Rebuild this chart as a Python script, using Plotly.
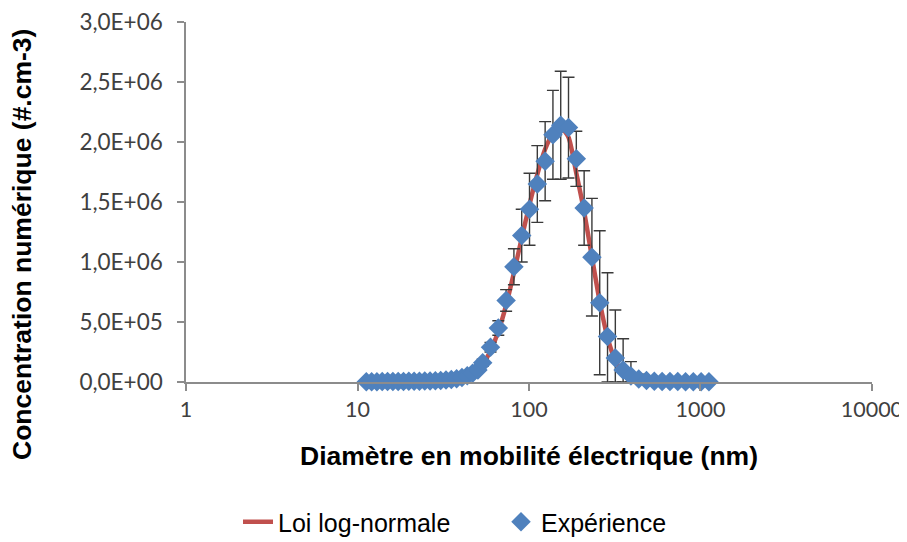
import plotly.graph_objects as go

# Diameters (nm)
diametre = [11.25, 12.08, 12.97, 13.93, 14.96, 16.07, 17.26, 18.54, 19.91, 21.38,
            22.96, 24.66, 26.49, 28.44, 30.55, 32.81, 35.24, 37.84, 40.64, 43.65,
            46.88, 50.35, 53.70, 59.64, 66.22, 73.55, 81.66, 90.69, 100.7, 111.8,
            124.2, 137.9, 153.1, 170.0, 188.8, 209.7, 232.8, 258.5, 287.1, 318.8,
            354.0, 393.1, 436.5, 484.7, 538.3, 597.7, 663.7, 737.1, 818.5, 908.9,
            1009, 1121]

# Experimental concentration (#/cm3)
experience = [3e3, 3e3, 3e3, 4e3, 4e3, 4e3, 5e3, 5e3, 6e3, 6e3,
              7e3, 8e3, 9e3, 11e3, 13e3, 16e3, 21e3, 28e3, 38e3, 52e3,
              72e3, 1.0e5, 1.6e5, 2.9e5, 4.5e5, 6.8e5, 9.6e5, 1.22e6, 1.44e6, 1.65e6,
              1.84e6, 2.06e6, 2.14e6, 2.12e6, 1.86e6, 1.45e6, 1.04e6, 6.6e5, 3.8e5, 2.0e5,
              1.0e5, 5.0e4, 2.5e4, 1.2e4, 7e3, 5e3, 4e3, 4e3, 3e3, 3e3,
              3e3, 3e3]

# Error bars (#/cm3)
erreur = [0, 0, 0, 0, 0, 0, 0, 0, 0, 0,
          0, 0, 0, 0, 0, 0, 0, 0, 0, 0,
          0, 0, 3e4, 4e4, 6e4, 9e4, 1.5e5, 2.2e5, 3.0e5, 3.2e5,
          3.3e5, 3.7e5, 4.5e5, 4.2e5, 2.3e5, 3.1e5, 4.9e5, 6.0e5, 5.3e5, 4.0e5,
          2.6e5, 1.2e5, 4e4, 0, 0, 0, 0, 0, 0, 0,
          0, 0]

# Log-normal fit (#/cm3)
loi_lognormale = [0, 0, 0, 0, 1e3, 1e3, 1e3, 1e3, 2e3, 2e3,
                  2e3, 2e3, 3e3, 5e3, 8e3, 12e3, 18e3, 26e3, 37e3, 52e3,
                  72e3, 1.0e5, 1.45e5, 2.6e5, 4.2e5, 6.4e5, 9.1e5, 1.20e6, 1.48e6, 1.73e6,
                  1.94e6, 2.07e6, 2.12e6, 2.04e6, 1.74e6, 1.42e6, 1.04e6, 6.7e5, 3.7e5, 1.8e5,
                  8e4, 3e4, 12e3, 5e3, 2e3, 1e3, 0, 0, 0, 0,
                  0, 0]

x_ticks = [1, 10, 100, 1000, 10000]
x_ticktext = ["1", "10", "100", "1000", "10000"]
y_ticks = [0, 5e5, 1e6, 1.5e6, 2e6, 2.5e6, 3e6]
y_ticktext = ["0,0E+00", "5,0E+05", "1,0E+06", "1,5E+06", "2,0E+06", "2,5E+06", "3,0E+06"]

err_minus = [min(e, v) for e, v in zip(erreur, experience)]

fig = go.Figure()
fig.add_trace(go.Scatter(
    x=diametre, y=loi_lognormale, mode="lines", name="Loi log-normale",
    line=dict(color="#C0504D", width=4.5, shape="spline", smoothing=0.6),
))
fig.add_trace(go.Scatter(
    x=diametre, y=experience, mode="markers", name="Expérience",
    marker=dict(symbol="diamond", size=15, color="#4F81BD"),
    error_y=dict(type="data", array=erreur, arrayminus=err_minus, symmetric=False,
                 color="#3a3a3a", thickness=1.4, width=6),
    cliponaxis=False,
))

# figure size = window minus the page's 8 px body margin
W, H = 899, 534
L, R, T, B = 178, 864, 14, 374

fig.update_layout(
    width=W, height=H,
    margin=dict(l=L, r=W - R, t=T, b=H - B, autoexpand=False),
    paper_bgcolor="white", plot_bgcolor="white",
    showlegend=True,
    legend=dict(orientation="h", x=(230 - L) / (R - L), xanchor="left",
                y=(B - 514) / (B - T), yanchor="middle",
                font=dict(family="Liberation Sans, Arial", size=25, color="#000000"),
                entrywidth=218, entrywidthmode="pixels"),
    xaxis=dict(
        type="log", range=[-0.0005, 4.0005],
        tickvals=x_ticks, ticktext=x_ticktext,
        showgrid=False, zeroline=False,
        showline=True, linecolor="#8c8c8c", linewidth=1.5,
        ticks="outside", ticklen=7, tickcolor="#8c8c8c", tickwidth=1.5,
        tickfont=dict(family="Lato", size=21.5, color="#404040"),
        ticklabeloverflow="allow",
        title=dict(text="<b>Diamètre en mobilité électrique (nm)</b>",
                   font=dict(family="Liberation Sans, Arial", size=26.5, color="#000000"),
                   standoff=26),
    ),
    yaxis=dict(
        range=[0, 3e6],
        tickvals=y_ticks, ticktext=y_ticktext,
        showgrid=False, zeroline=False,
        showline=True, linecolor="#8c8c8c", linewidth=1.5,
        ticks="outside", ticklen=7, tickcolor="#8c8c8c", tickwidth=1.5,
        tickfont=dict(family="Lato", size=22.5, color="#404040"),
        ticklabeloverflow="allow",
        ticklabelstandoff=10,
    ),
    annotations=[dict(
        text="<b>Concentration numérique (#.cm-3)</b>",
        xref="paper", yref="paper",
        x=(14 - L) / (R - L), y=(B - 237) / (B - T),
        xanchor="center", yanchor="middle", textangle=-90, showarrow=False,
        font=dict(family="Liberation Sans, Arial", size=26.5, color="#000000"),
    )],
)

fig.write_html("out.html")
